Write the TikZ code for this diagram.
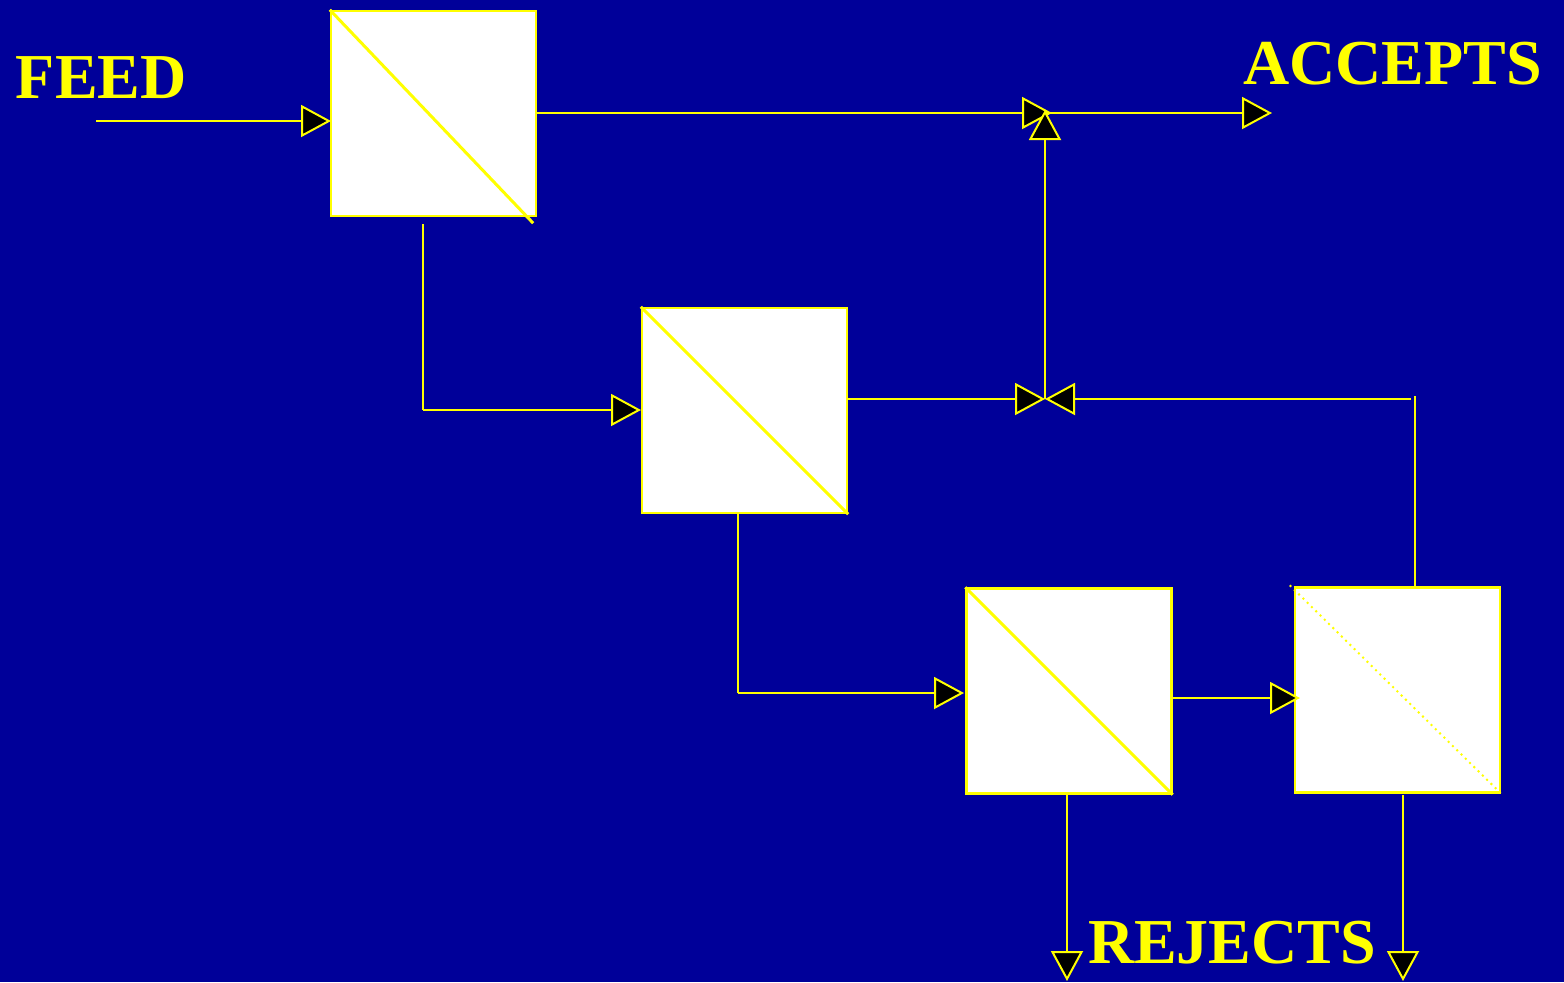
\documentclass[tikz,border=0pt]{standalone}
\usepackage{fontspec}
\setmainfont{Liberation Serif}
\usetikzlibrary{arrows.meta}
\definecolor{bg}{HTML}{000099}
\definecolor{yel}{HTML}{FFFF00}
\begin{document}
\begin{tikzpicture}[x=0.5pt,y=-0.5pt,
  line width=1pt,
  flow/.style={draw=yel,line width=1pt},
  arr/.style={flow,-{Triangle[length=15pt,width=16pt,fill=black]}},
  unit/.style={draw=yel,fill=white,line width=1.2pt,minimum size=102.5pt,inner sep=0pt},
  lbl/.style={text=yel,font=\bfseries\fontsize{32pt}{33pt}\selectfont,inner sep=0pt}]
\fill[bg] (0,0) rectangle (1564,982);
\useasboundingbox (0,0) rectangle (1564,982);
% units
\node[unit] (u1) at (433.5,113.5) {};
\node[unit] (u2) at (744.5,410.5) {};
\node[unit] (u3) at (1069,691) {};
\node[unit] (u4) at (1397.5,690) {};
\draw[yel,line width=1.5pt] (u1.north west) -- ([shift={(-4,6)}]u1.south east);
\draw[yel,line width=1.5pt] (u2.north west) -- (u2.south east);
\draw[yel,line width=1.5pt] (u3.north west) -- (u3.south east);
\draw[yel,line width=1pt,dotted] ([shift={(-4,-1)}]u4.north west) -- (u4.south east);
% labels
\node[lbl,anchor=base west] (feed) at (15,98) {FEED};
\node[lbl,anchor=base east] (acc) at (1543,84) {ACCEPTS};
\node[lbl,anchor=base west] (rej) at (1087,963) {REJECTS};
% coordinates
\coordinate (fin) at (96,121);
\coordinate (u1in) at (331,121);
\coordinate (u1out) at (537,113);
\coordinate (jA) at (1045,113);
\coordinate (jAh) at (1052,113);
\coordinate (jAv) at (1045,110);
\coordinate (accout) at (1272,113);
\coordinate (u1b) at (423,224);
\coordinate (u1c) at (423,410);
\coordinate (u2in) at (641,410);
\coordinate (u2out) at (848,399);
\coordinate (jV) at (1045,399);
\coordinate (rc) at (1411,399);
\coordinate (u4t) at (1415,396);
\coordinate (u4top) at (1415,586);
\coordinate (u2b) at (738,514);
\coordinate (u2c) at (738,693);
\coordinate (u3in) at (964,693);
\coordinate (u3out) at (1172,698);
\coordinate (u4in) at (1300,698);
\coordinate (u3b) at (1067,795);
\coordinate (r1) at (1067,981);
\coordinate (u4b) at (1403,795);
\coordinate (r2) at (1403,981);
% connectors
\draw[arr] (fin) -- (u1in);
\draw[arr] (u1out) -- (jAh);
\draw[arr] (jA) -- (accout);
\draw[flow] (u1b) -- (u1c);
\draw[arr] (u1c) -- (u2in);
\draw[arr] (u2out) -- (jV);
\draw[arr] (rc) -- (jV);
\draw[flow] (u4t) -- (u4top);
\draw[arr] (jV) -- (jAv);
\draw[flow] (u2b) -- (u2c);
\draw[arr] (u2c) -- (u3in);
\draw[arr] (u3out) -- (u4in);
\draw[arr] (u3b) -- (r1);
\draw[arr] (u4b) -- (r2);
\end{tikzpicture}
\end{document}
